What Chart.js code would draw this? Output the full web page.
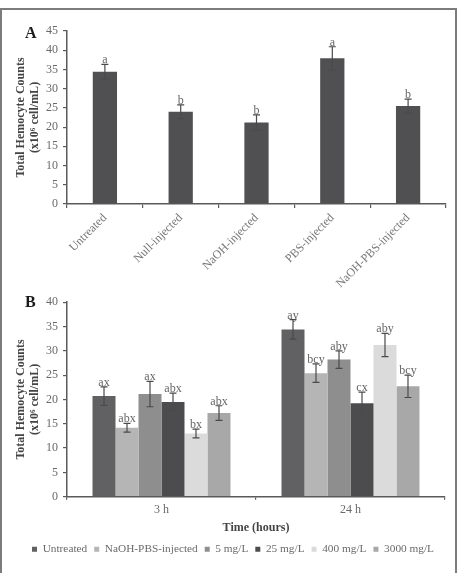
<!DOCTYPE html>
<html>
<head>
<meta charset="utf-8">
<script src="https://cdn.jsdelivr.net/npm/chart.js@4.4.1/dist/chart.umd.min.js"></script>
<style>
  html, body { margin: 0; padding: 0; background: #fff; }
  body { width: 459px; height: 573px; position: relative; overflow: hidden; }
  .frame {
    position: absolute; left: 0; top: 8px; width: 453px; height: 570px;
    border: 2px solid #7c7c7c; border-bottom: none;
  }
  .panel-label {
    position: absolute; left: 25px; font: bold 16px "Liberation Serif", serif;
    line-height: 16px; color: #1a1a1a;
  }
  #chartA { position: absolute; left: 0; top: 10px; }
  #chartB { position: absolute; left: 0; top: 290px; }
</style>
</head>
<body>
<div class="frame"></div>
<canvas id="chartA" width="459" height="280"></canvas>
<canvas id="chartB" width="459" height="283"></canvas>
<div class="panel-label" style="top:25px">A</div>
<div class="panel-label" style="top:294px">B</div>
<script>
// Panel A
const categoriesA = ["Untreated", "Null-injected", "NaOH-injected", "PBS-injected", "NaOH-PBS-injected"];
const countsA = [34.4, 24.0, 21.2, 37.9, 25.5];
const errorsA = [1.9, 1.8, 2.0, 3.0, 1.8];
const lettersA = ["a", "b", "b", "a", "b"];
const ticksA = [0, 5, 10, 15, 20, 25, 30, 35, 40, 45];

// Panel B
const timesB = ["3 h", "24 h"];
const groupsB = ["Untreated", "NaOH-PBS-injected", "5 mg/L", "25 mg/L", "400 mg/L", "3000 mg/L"];
const untreatedB = [20.7, 34.4];
const naohPbsB = [14.2, 25.4];
const mg5B = [21.1, 28.2];
const mg25B = [19.5, 19.2];
const mg400B = [13.0, 31.2];
const mg3000B = [17.2, 22.7];
const untreatedErrB = [1.9, 2.0];
const naohPbsErrB = [0.9, 1.9];
const mg5ErrB = [2.6, 1.8];
const mg25ErrB = [1.8, 2.3];
const mg400ErrB = [0.9, 2.4];
const mg3000ErrB = [1.5, 2.3];
const untreatedLetB = ["ax", "ay"];
const naohPbsLetB = ["abx", "bcy"];
const mg5LetB = ["ax", "aby"];
const mg25LetB = ["abx", "cx"];
const mg400LetB = ["bx", "aby"];
const mg3000LetB = ["abx", "bcy"];
const ticksB = [0, 5, 10, 15, 20, 25, 30, 35, 40];

const serif = '"Liberation Serif", "DejaVu Serif", serif';
const tickGrey = "#6a6a6a";
const axisGrey = "#5a5a5a";

const errorBarPlugin = {
  id: "errorBars",
  afterDatasetsDraw(chart) {
    const { ctx } = chart;
    const yScale = chart.scales.y;
    ctx.save();
    chart.data.datasets.forEach((dataset, di) => {
      const meta = chart.getDatasetMeta(di);
      meta.data.forEach((bar, i) => {
        const value = dataset.data[i];
        const err = dataset.errors[i];
        const top = yScale.getPixelForValue(value + err);
        const bottom = yScale.getPixelForValue(value - err);
        ctx.strokeStyle = "#4a4a4a";
        ctx.lineWidth = 1.2;
        ctx.beginPath();
        ctx.moveTo(bar.x, top);
        ctx.lineTo(bar.x, bottom);
        ctx.moveTo(bar.x - 3.5, top);
        ctx.lineTo(bar.x + 3.5, top);
        ctx.moveTo(bar.x - 3.5, bottom);
        ctx.lineTo(bar.x + 3.5, bottom);
        ctx.stroke();
        ctx.fillStyle = "#666";
        ctx.font = "12px " + serif;
        ctx.textAlign = "center";
        ctx.textBaseline = "alphabetic";
        ctx.fillText(dataset.letters[i], bar.x, top - 1);
      });
    });
    ctx.restore();
  },
};

// padLeft: layout padding on the left; the axis box fills the rest up to x=67
function yAxis(max, tickValues, padLeft) {
  return {
    min: 0,
    max: max,
    afterFit(scale) {
      scale.width = 67 - padLeft;
    },
    afterBuildTicks(scale) {
      scale.ticks = tickValues.map((v) => ({ value: v }));
    },
    grid: { drawOnChartArea: false, tickLength: 4, color: axisGrey, lineWidth: 1.2 },
    border: { color: axisGrey, width: 1.5 },
    ticks: { color: tickGrey, padding: 5, font: { family: serif, size: 12 } },
    title: {
      display: true,
      text: ["Total Hemocyte Counts", "(x10\u2076 cell/mL)"],
      color: "#444",
      font: { family: serif, size: 12, weight: "bold", lineHeight: 1.17 },
      padding: { top: 14 - padLeft, bottom: 0 },
    },
  };
}

function buildChartA(ctx) {
  return new Chart(ctx, {
    type: "bar",
    data: {
      labels: categoriesA,
      datasets: [
        {
          label: "Total Hemocyte Counts",
          data: countsA,
          errors: errorsA,
          letters: lettersA,
          backgroundColor: "#505052",
          barPercentage: 0.32,
          categoryPercentage: 1,
        },
      ],
    },
    options: {
      responsive: false,
      animation: false,
      layout: { padding: { left: 0, right: 13, top: 21, bottom: 0 } },
      plugins: { legend: { display: false }, tooltip: { enabled: false } },
      scales: {
        x: {
          afterFit(scale) {
            scale.height = 86;
          },
          grid: { drawOnChartArea: false, tickLength: 4, color: axisGrey, lineWidth: 1.2 },
          border: { color: axisGrey, width: 1.5 },
          ticks: {
            color: "#777",
            autoSkip: false,
            maxRotation: 45,
            minRotation: 45,
            padding: 3,
            font: { family: serif, size: 12 },
          },
        },
        y: yAxis(45, ticksA, 0),
      },
    },
    plugins: [errorBarPlugin],
  });
}

function buildChartB(ctx) {
  const series = [
    [untreatedB, untreatedErrB, untreatedLetB, "#616163"],
    [naohPbsB, naohPbsErrB, naohPbsLetB, "#b5b5b5"],
    [mg5B, mg5ErrB, mg5LetB, "#8e8e8f"],
    [mg25B, mg25ErrB, mg25LetB, "#4c4c4e"],
    [mg400B, mg400ErrB, mg400LetB, "#dbdbdb"],
    [mg3000B, mg3000ErrB, mg3000LetB, "#a8a8a8"],
  ];
  return new Chart(ctx, {
    type: "bar",
    data: {
      labels: timesB,
      datasets: series.map((s, i) => ({
        label: groupsB[i],
        data: s[0],
        errors: s[1],
        letters: s[2],
        backgroundColor: s[3],
        barPercentage: 1,
        categoryPercentage: 0.73,
      })),
    },
    options: {
      responsive: false,
      animation: false,
      layout: { padding: { left: 21, right: 14, top: 12, bottom: 8 } },
      plugins: {
        tooltip: { enabled: false },
        legend: {
          position: "bottom",
          labels: {
            color: tickGrey,
            boxWidth: 5,
            boxHeight: 5,
            padding: 7,
            font: { family: serif, size: 11.3 },
          },
        },
      },
      scales: {
        x: {
          afterFit(scale) {
            scale.height = 40;
          },
          grid: { drawOnChartArea: false, tickLength: 3, color: axisGrey, lineWidth: 1.2 },
          border: { color: axisGrey, width: 1.5 },
          ticks: { color: tickGrey, padding: 3, font: { family: serif, size: 12 } },
          title: {
            display: true,
            text: "Time (hours)",
            color: "#444",
            font: { family: serif, size: 12, weight: "bold" },
            padding: { top: 0, bottom: 2 },
          },
        },
        y: yAxis(40, ticksB, 21),
      },
    },
    plugins: [errorBarPlugin],
  });
}

buildChartA(document.getElementById("chartA"));
buildChartB(document.getElementById("chartB"));
</script>
</body>
</html>
